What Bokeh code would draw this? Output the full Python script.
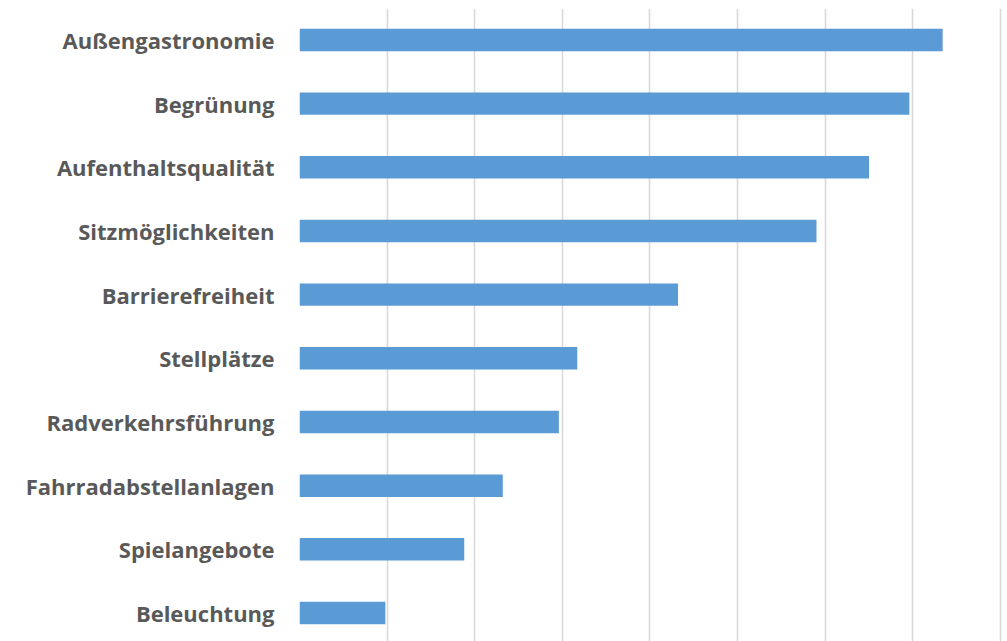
from bokeh.plotting import figure
from bokeh.models import Range1d, FixedTicker, ColumnDataSource
from bokeh.embed import file_html
from bokeh.resources import INLINE

# Data (top to bottom as shown)
categories = [
    "Außengastronomie",
    "Begrünung",
    "Aufenthaltsqualität",
    "Sitzmöglichkeiten",
    "Barrierefreiheit",
    "Stellplätze",
    "Radverkehrsführung",
    "Fahrradabstellanlagen",
    "Spielangebote",
    "Beleuchtung",
]
values = [73.4, 69.6, 65.0, 59.0, 43.2, 31.7, 29.6, 23.2, 18.8, 9.8]
x_ticks = [0, 10, 20, 30, 40, 50, 60, 70, 80]

n = len(categories)
positions = [n - 1 - i for i in range(n)]

source = ColumnDataSource(dict(y=positions, right=values, cat=categories))

p = figure(
    width=1007, height=641,
    output_backend="svg", toolbar_location=None,
    x_range=Range1d(0, 80.8), y_range=Range1d(-0.448, 9.494),
    min_border_left=299, min_border_right=0, min_border_top=8, min_border_bottom=0,
)
p.outline_line_color = None
p.background_fill_color = "white"
p.border_fill_color = "white"

p.hbar(y="y", left=0, right="right", height=0.353, source=source,
       fill_color="#5b9bd5", line_color=None)

# x axis hidden, grid kept
p.xaxis.visible = False
p.xgrid[0].ticker = FixedTicker(ticks=x_ticks)
p.xgrid.grid_line_color = "#d9d9d9"
p.xgrid.grid_line_width = 1.6
p.ygrid.visible = False

# y axis: category labels
yax = p.yaxis[0]
yax.ticker = FixedTicker(ticks=positions)
yax.major_label_overrides = {pos: cat for pos, cat in zip(positions, categories)}
yax.axis_line_color = None
yax.major_tick_line_color = None
yax.minor_tick_line_color = None
yax.major_label_standoff = 19
yax.major_label_text_font = "Open Sans"
yax.major_label_text_font_style = "bold"
yax.major_label_text_font_size = "22px"
yax.major_label_text_color = "#595959"

open("out.html", "w").write(file_html(p, INLINE))
